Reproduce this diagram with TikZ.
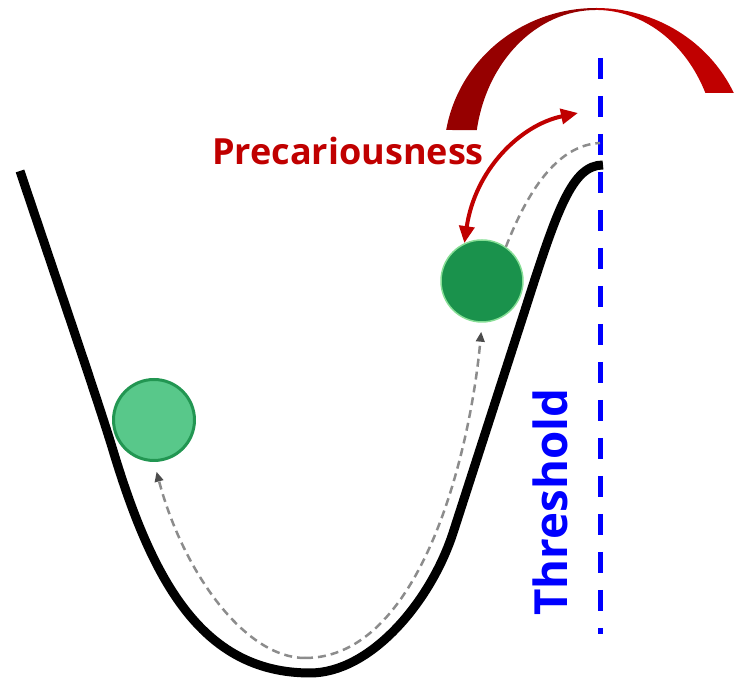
\documentclass[tikz,border=0pt]{standalone}
\usepackage{fontspec}
\setmainfont{Open Sans}
\usepackage{xcolor}
\definecolor{arcred}{RGB}{150,0,0}
\definecolor{myred}{RGB}{192,0,0}
\definecolor{ballgreen}{RGB}{26,146,76}
\definecolor{palegreen}{RGB}{88,200,138}
\definecolor{rimgreen}{RGB}{34,150,82}
\usetikzlibrary{arrows.meta}

\begin{document}
\begin{tikzpicture}[x=0.02cm, y=0.02cm, >=Latex,
    ball/.style={circle, inner sep=0pt, minimum size=1.62cm, line width=0.06cm},
    trail/.style={black!45, line width=0.05cm, dash pattern=on 0.16cm off 0.1cm},
    trailtip/.style={-{Triangle[length=0.2cm, width=0.17cm, color=black!70]}},
    redtip/.style={{Triangle[length=0.34cm, width=0.3cm]}-{Triangle[length=0.34cm, width=0.3cm]}}]

    \useasboundingbox (0,0) rectangle (735,685);

    % ===== THRESHOLD =====
    \draw[blue, line width=0.1cm, dash pattern=on 0.42cm off 0.34cm] (600,627) -- (600,51);
    \node[rotate=90, anchor=base, text=blue, font=\fontsize{26}{30}\selectfont\bfseries] (thr) at (567,183) {Threshold};

    % ===== TIPPING ARC =====
    \fill[arcred] (446.2,555) arc[start angle=170.2, end angle=90, x radius=152, y radius=147]
        -- (596,675) arc[start angle=90, end angle=170.1, x radius=121, y radius=145] -- cycle;
    \fill[myred] (596,677) arc[start angle=90, end angle=24.95, x radius=152, y radius=147]
        -- (705.4,592) arc[start angle=25.3, end angle=90, x radius=121, y radius=145] -- cycle;

    % ===== LANDSCAPE =====
    \draw[line width=0.18cm] (20,514) .. controls (60,395) and (96,290) .. (112,238)
        .. controls (151,108) and (200,12) .. (310,12)
        .. controls (370,12) and (430,82) .. (453,152)
        -- (525,375)
        .. controls (557,475) and (572,520) .. (603,520);

    % ===== BALLS =====
    \node[ball, fill=palegreen, draw=rimgreen] (lowball) at (154,265) {};
    \node[ball, fill=ballgreen, draw=ballgreen!60!green!50!white, line width=0.03cm, minimum size=1.64cm] (highball) at (482,404) {};

    % trails along the valley
    \coordinate (valley) at (305,27);
    \coordinate (crest) at (600,542);
    \draw[trail, trailtip, shorten >=0.2cm] (valley) .. controls (245,27) and (183,113) .. (lowball.south);
    \draw[trail, trailtip, shorten >=0.18cm] (valley) .. controls (420,27) and (470,230) .. (highball.south);
    \draw[trail] (highball.55) .. controls (530,500) and (560,540) .. (crest);

    % ===== PRECARIOUSNESS =====
    \coordinate (peak) at (578,572);
    \draw[myred, line width=0.08cm, redtip] (highball.115) .. controls (475,515) and (520,560) .. (peak);
    \node[anchor=base, text=myred, font=\fontsize{20.5}{24}\selectfont\bfseries] (prec) at (348,520) {Precariousness};

\end{tikzpicture}
\end{document}
